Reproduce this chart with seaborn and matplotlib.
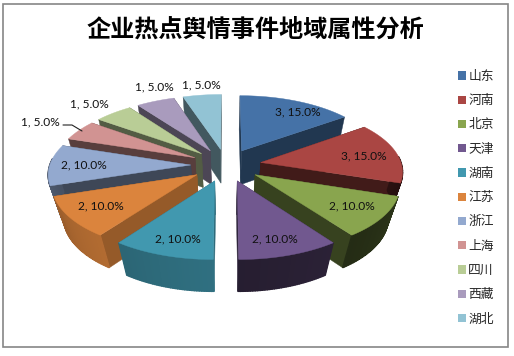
import numpy as np
import matplotlib
matplotlib.use("Agg")
import matplotlib.pyplot as plt
import seaborn as sns
from matplotlib.patches import Patch, Polygon, Rectangle

# chart data
regions = ['山东', '河南', '北京', '天津', '湖南', '江苏', '浙江', '上海', '四川', '西藏', '湖北']
counts = [3, 3, 2, 2, 2, 2, 2, 1, 1, 1, 1]
title = '企业热点舆情事件地域属性分析'

# styles
colors = ['#4572A7', '#AA4643', '#89A54E', '#71588F', '#4198AF', '#DB843D',
          '#93A9CF', '#D19392', '#B9CD96', '#A99BBD', '#92C3D4']
side_dark = [0.48, 0.38, 0.40, 0.42, 0.70, 0.68, 0.42, 0.42, 0.45, 0.45, 0.45]
label_xy = [(298, 112), (364, 156), (352, 206), (275, 239), (178, 239), (101, 206),
            (84, 165), (40, 122), (89, 104), (154, 87), (201, 85)]

sns.set_theme(style='white')
plt.rcParams['font.family'] = ['Noto Sans CJK SC', 'DejaVu Sans']

# projection of the exploded 3d pie, in pixels
CX, CY = 226, 165
A, C, K = 141, 65, 0.12
EXPLODE = 0.25
SHRINK = 0.07
DEPTH = 36


def project(u, v, bottom=False):
    if bottom:
        s = 1 / (1 + K * v + SHRINK)
        return CX + A * u * s, CY - C * v * s + DEPTH * s
    s = 1 / (1 + K * v)
    return CX + A * u * s, CY - C * v * s


def shade(col, f):
    return tuple(np.array(matplotlib.colors.to_rgb(col)) * f)


fig = plt.figure(figsize=(5.14, 3.56), dpi=100)
ax = fig.add_axes([0, 0, 1, 1])
ax.set_xlim(0, 514)
ax.set_ylim(356, 0)
ax.axis('off')

ax.add_patch(Rectangle((2.5, 3.5), 505.5, 343.5, fill=False, ec='#868686', lw=1.2))

total = sum(counts)
edges = np.concatenate([[0], np.cumsum(counts)]) / total * 2 * np.pi
mids = (edges[:-1] + edges[1:]) / 2
# back wedges first
order = np.argsort(-np.cos(mids))

for i in order:
    col = colors[i]
    au, av = EXPLODE * np.sin(mids[i]), EXPLODE * np.cos(mids[i])
    th = np.linspace(edges[i], edges[i + 1], 40)
    us = au + np.sin(th)
    vs = av + np.cos(th)
    dark = shade(col, side_dark[i])
    # cut faces, far one first
    faces = []
    for k in (0, -1):
        faces.append((vs[k], [project(au, av), project(us[k], vs[k]),
                              project(us[k], vs[k], True), project(au, av, True)]))
    faces.sort(key=lambda f: -f[0])
    for _, pts in faces:
        ax.add_patch(Polygon(pts, closed=True, fc=dark, ec=dark, lw=0.3))
    # outer wall, shaded along the arc
    for k in range(len(th) - 1):
        if np.cos(th[k]) > 0.1:
            continue
        f = side_dark[i] * (1.05 - 0.25 * np.sin(th[k]) - 0.25 * (k / len(th)))
        c = shade(col, min(f, 1))
        pts = [project(us[k], vs[k]), project(us[k + 1], vs[k + 1]),
               project(us[k + 1], vs[k + 1], True), project(us[k], vs[k], True)]
        ax.add_patch(Polygon(pts, closed=True, fc=c, ec=c, lw=1.0))
    # top face
    top = [project(au, av)] + [project(a, b) for a, b in zip(us, vs)]
    ax.add_patch(Polygon(top, closed=True, fc=col, ec=col, lw=0.3))

for i in range(len(regions)):
    txt = f'{counts[i]}, {counts[i] / total * 100:.1f}%'
    ax.text(label_xy[i][0], label_xy[i][1], txt, ha='center', va='center',
            fontsize=8.6, family='Lato', color='#111111')

# leader line of the 上海 label
ax.plot([63, 72, 82], [125, 125, 131], color='#222222', lw=0.8)

ax.text(255.5, 30, title, ha='center', va='center', fontsize=17.4,
        fontweight='bold', color='black')

handles = [Patch(fc=c, ec='none', label=r) for c, r in zip(colors, regions)]
ax.legend(handles=handles, loc='upper left', bbox_to_anchor=(458 / 514, 1 - 70 / 356),
          frameon=False, fontsize=9.2, handlelength=0.62, handleheight=0.62,
          handletextpad=0.18, labelspacing=0.88, borderpad=0, borderaxespad=0)

fig.savefig('out.png', dpi=100, facecolor='white')
